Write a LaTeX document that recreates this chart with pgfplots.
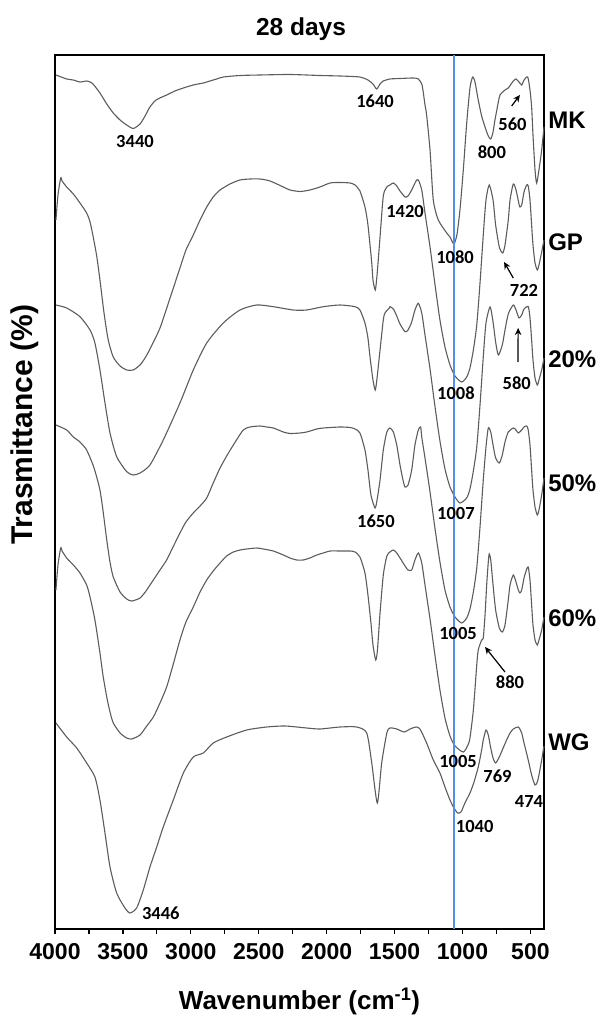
\documentclass[border=0pt]{standalone}
\usepackage{pgfplots}
\pgfplotsset{compat=1.18}
\usepackage{fontspec}
\setmainfont{Liberation Sans}
\newfontfamily\annfont{Carlito}
\usetikzlibrary{arrows.meta}
\definecolor{curvegray}{RGB}{92,92,92}
\definecolor{refblue}{RGB}{85,140,240}
\begin{document}
\begin{tikzpicture}
\useasboundingbox (-55pt,-92pt) rectangle (543pt,929pt);
\begin{axis}[
  at={(0,0)}, anchor=south west,
  width=489pt, height=874pt, scale only axis,
  x dir=reverse, xmin=400, xmax=4000,
  ymin=-929, ymax=-55,
  clip=false,
  axis line style={line width=1.3pt},
  ytick=\empty,
  xtick={500,1000,...,4000},
  minor xtick={750,1250,...,3750},
  xtick pos=bottom,
  tick align=outside,
  major tick length=5pt, minor tick length=5pt,
  every tick/.style={black, line width=1.2pt},
  /pgf/number format/assume math mode=true,
  /pgf/number format/1000 sep={},
  xticklabel style={font=\bfseries\fontsize{23}{23}\selectfont, yshift=-6pt},
  title={28 days},
  title style={font=\bfseries\fontsize{24.5}{28}\selectfont, at={(axis description cs:0.503,1.0217)}, anchor=base, yshift=-5pt},
  xlabel={Wavenumber (cm\textsuperscript{-1})},
  xlabel style={font=\bfseries\fontsize{26}{28}\selectfont, at={(axis description cs:0.5,-0.0925)}, anchor=base},
  ylabel={Trasmittance (\%)},
  ylabel style={font=\bfseries\fontsize{30}{32}\selectfont, at={(axis description cs:-0.0613,0.577)}, anchor=center},
  spec/.style={draw=curvegray, line width=1.1pt, smooth, tension=0.4, mark=none},
]
% MK
\addplot[spec] coordinates {(3993,-75) (3914,-79) (3865,-80) (3816,-82) (3767,-81) (3742,-82) (3720,-84) (3669,-93) (3619,-104) (3571,-113) (3521,-120) (3472,-125) (3424,-128.5) (3374,-124) (3337,-116) (3301,-107) (3256,-100) (3178,-95) (3117,-91) (3055,-88) (2982,-85) (2908,-83) (2859,-81) (2810,-79) (2761,-77) (2638,-75.5) (2491,-75) (2270,-74.5) (2049,-75.5) (1902,-76) (1755,-77) (1696,-80) (1659,-84) (1632,-89) (1607,-84) (1583,-81) (1534,-79) (1460,-78.5) (1362,-78) (1325,-79) (1300,-84) (1289,-92) (1276,-105) (1264,-115) (1239,-150) (1215,-200) (1178,-220) (1116,-233) (1092,-237) (1063,-244) (1040,-234) (1018,-209) (994,-170) (969,-123) (945,-88) (925,-77) (908,-82) (884,-100) (859,-116) (834,-127) (810,-136) (792,-139) (775,-132) (761,-120) (736,-102) (724,-95) (687,-90) (663,-88) (626,-81) (606,-79) (584,-82) (564,-85) (547,-80) (520,-77) (503,-90) (491,-107) (481,-135) (466,-170) (454,-183) (437,-170) (417,-150) (400,-127)};
% GP
\addplot[spec] coordinates {(3993,-220) (3978,-195) (3958,-178) (3948,-181) (3914,-187) (3865,-194) (3816,-203) (3767,-213) (3742,-222) (3720,-236) (3693,-256) (3669,-280) (3639,-313) (3608,-340) (3571,-357) (3521,-366) (3472,-370) (3424,-370) (3374,-365) (3337,-358) (3301,-349) (3227,-328) (3153,-298) (3080,-268) (3036,-250) (2982,-235) (2932,-220) (2883,-207) (2835,-197) (2785,-190) (2712,-184) (2638,-180) (2564,-179) (2491,-179) (2417,-181) (2319,-187) (2270,-190) (2196,-191.5) (2123,-190) (2049,-187) (1975,-183) (1902,-182.5) (1828,-183) (1791,-185) (1755,-191) (1718,-207) (1696,-225) (1668,-263) (1659,-280) (1642,-290) (1629,-275) (1607,-237) (1583,-196) (1557,-187) (1534,-185) (1509,-183) (1484,-186) (1460,-191) (1423,-197) (1401,-196) (1374,-190) (1342,-181) (1325,-180) (1300,-190) (1276,-213) (1239,-247) (1202,-285) (1166,-320) (1129,-347) (1092,-365) (1055,-376) (1006,-382) (969,-377) (945,-368) (920,-350) (895,-325) (871,-283) (847,-235) (827,-200) (803,-185) (775,-200) (756,-225) (729,-247) (704,-253) (687,-245) (663,-220) (650,-200) (626,-184) (606,-190) (584,-204) (577,-207) (564,-205) (547,-192) (527,-185) (516,-186) (503,-200) (491,-225) (481,-245) (466,-263) (449,-270) (437,-265) (417,-252) (400,-240)};
% 20%
\addplot[spec] coordinates {(3993,-305) (3914,-308) (3816,-316.7) (3742,-330) (3706,-343) (3669,-370) (3632,-403) (3595,-433) (3546,-456.7) (3472,-471.7) (3424,-475) (3374,-473) (3301,-465) (3203,-440) (3080,-403) (2982,-370) (2883,-343) (2761,-323) (2638,-310) (2515,-305) (2393,-306.7) (2246,-310) (2147,-310) (2025,-306.7) (1902,-305) (1791,-306.7) (1755,-310) (1718,-323) (1696,-338) (1681,-356.7) (1659,-380) (1642,-390) (1629,-378) (1607,-350) (1583,-320) (1571,-313) (1539,-308) (1534,-306.7) (1509,-309) (1484,-316) (1460,-324) (1423,-331.7) (1401,-330) (1374,-322) (1350,-310) (1325,-303.3) (1300,-313) (1276,-335) (1239,-369) (1202,-407) (1166,-441) (1129,-469) (1092,-487) (1055,-497) (1018,-503) (969,-498) (945,-489) (920,-471) (895,-447) (871,-405) (847,-357) (827,-323) (797,-307) (775,-322) (756,-342) (736,-355) (707,-345) (687,-330) (663,-314) (626,-305) (606,-310) (584,-318) (564,-315) (547,-309) (516,-306.7) (503,-318) (491,-340) (481,-360) (466,-378) (449,-385) (437,-380) (417,-370) (400,-358)};
% 50%
\addplot[spec] coordinates {(3993,-425) (3914,-430) (3865,-437) (3816,-442) (3767,-450) (3720,-465) (3693,-477) (3669,-490) (3647,-510) (3619,-540) (3595,-562) (3571,-577) (3521,-592) (3472,-599) (3435,-601) (3374,-598) (3330,-591) (3276,-580) (3227,-570) (3178,-560) (3131,-547) (3080,-533) (3036,-522) (2982,-513) (2932,-506) (2883,-498) (2835,-483) (2785,-468) (2736,-456) (2687,-445) (2614,-430) (2564,-427) (2491,-426) (2441,-427) (2393,-428) (2319,-432) (2270,-433.5) (2196,-433) (2147,-432) (2073,-429) (2025,-428) (1902,-427) (1828,-427.5) (1791,-429) (1755,-433) (1718,-450) (1696,-470) (1674,-495) (1644,-508) (1629,-500) (1607,-480) (1583,-450) (1557,-432) (1534,-428) (1509,-432) (1484,-445) (1460,-465) (1438,-480) (1423,-487) (1401,-485) (1374,-470) (1350,-445) (1325,-430) (1308,-427) (1300,-437) (1276,-458) (1239,-492) (1202,-529) (1166,-562) (1129,-590) (1092,-607) (1055,-617) (1006,-623) (969,-618) (945,-609) (920,-592) (895,-568) (871,-527) (847,-480) (827,-447) (810,-428) (792,-432) (775,-445) (756,-458) (729,-463) (707,-455) (687,-442) (663,-432) (626,-428) (606,-430) (589,-433) (564,-430) (547,-427) (527,-426) (516,-430) (503,-445) (491,-470) (481,-490) (466,-507) (449,-515) (437,-510) (417,-495) (400,-478)};
% 60%
\addplot[spec] coordinates {(3993,-590) (3978,-565) (3958,-548) (3948,-551) (3914,-558) (3865,-565) (3816,-573) (3767,-585) (3742,-597) (3706,-620) (3669,-653) (3647,-675) (3619,-697) (3595,-712) (3571,-723) (3521,-733) (3472,-738) (3435,-739) (3374,-735) (3330,-727) (3276,-717) (3227,-703) (3178,-687) (3131,-665) (3080,-640) (3036,-622) (2982,-607) (2932,-592) (2883,-580) (2835,-571) (2785,-563) (2736,-556) (2687,-552) (2638,-550) (2589,-549) (2515,-548) (2467,-549) (2393,-551) (2319,-555) (2270,-558) (2221,-560) (2172,-560) (2123,-558) (2073,-555) (2025,-553) (1975,-551) (1902,-551) (1828,-551) (1791,-552) (1755,-557) (1718,-573) (1696,-595) (1674,-623) (1659,-645) (1639,-660) (1626,-650) (1607,-613) (1583,-575) (1557,-556) (1534,-552) (1509,-550) (1484,-553) (1460,-558) (1423,-566) (1401,-570) (1374,-570) (1350,-560) (1325,-553) (1300,-563) (1276,-585) (1239,-619) (1202,-656) (1166,-690) (1129,-718) (1092,-736) (1055,-746) (994,-752) (960,-745) (945,-738) (920,-710) (895,-665) (884,-650) (859,-640) (847,-638) (834,-615) (822,-585) (810,-562) (803,-554) (792,-560) (775,-585) (756,-610) (729,-628) (707,-632) (687,-625) (663,-600) (650,-585) (626,-575) (606,-582) (589,-590) (577,-593) (564,-590) (547,-578) (527,-569) (516,-567) (503,-580) (491,-605) (481,-625) (466,-640) (449,-645) (437,-640) (417,-630) (400,-617)};
% WG
\addplot[spec] coordinates {(3993,-723) (3914,-737) (3840,-748) (3767,-763) (3706,-777) (3669,-800) (3632,-833) (3595,-867) (3546,-893) (3485,-908) (3448,-913) (3399,-908) (3350,-890) (3301,-867) (3251,-847) (3203,-827) (3129,-800) (3055,-773) (2982,-757) (2908,-753) (2835,-743) (2736,-737) (2589,-730) (2441,-727) (2307,-726) (2147,-728) (2049,-729) (1902,-727) (1779,-727) (1705,-733) (1668,-763) (1627,-803) (1595,-763) (1557,-733) (1534,-728) (1484,-729) (1430,-732) (1386,-729) (1342,-727) (1313,-729) (1264,-743) (1215,-760) (1166,-773) (1129,-787) (1092,-800) (1063,-808) (1035,-813) (1011,-812) (982,-803) (945,-793) (915,-782) (884,-767) (859,-750) (847,-740) (827,-730) (810,-735) (792,-748) (775,-758) (756,-763) (729,-757) (707,-750) (675,-740) (650,-733) (626,-729) (589,-727) (564,-733) (547,-743) (516,-760) (491,-775) (466,-785) (449,-782) (437,-775) (417,-760) (400,-746)};
% reference line
\addplot[draw=refblue, line width=1.2pt, sharp plot, mark=none] coordinates {(1063,-55) (1063,-929)};
% annotations
\begin{scope}[every node/.style={font=\annfont\bfseries\fontsize{18.5}{18.5}\selectfont, inner sep=0pt}]
\node at (axis cs:3411,-142) {3440};
\node at (axis cs:1644,-101.5) {1640};
\node at (axis cs:632,-124) {560};
\node at (axis cs:784,-152) {800};
\node at (axis cs:1423,-211.5) {1420};
\node at (axis cs:1055,-257) {1080};
\node at (axis cs:547,-290) {722};
\node at (axis cs:1048,-393) {1008};
\node at (axis cs:601,-383) {580};
\node at (axis cs:1048,-513) {1007};
\node at (axis cs:1637,-521) {1650};
\node at (axis cs:1033,-633) {1005};
\node at (axis cs:650,-682.5) {880};
\node at (axis cs:1033,-761.7) {1005};
\node at (axis cs:742,-775.8) {769};
\node at (axis cs:510,-801.7) {474};
\node at (axis cs:910,-826.3) {1040};
\node at (axis cs:3221,-913.3) {3446};
\end{scope}
\begin{scope}[every node/.style={font=\bfseries\fontsize{24}{24}\selectfont, anchor=west, inner sep=0pt}]
\node at (axis cs:370,-120) {MK};
\node at (axis cs:370,-242) {GP};
\node at (axis cs:370,-359) {20\%};
\node at (axis cs:370,-483) {50\%};
\node at (axis cs:370,-618) {60\%};
\node at (axis cs:370,-742) {WG};
\end{scope}
\begin{scope}[-{Stealth[length=7pt,width=6.5pt]}, line width=1.2pt, black]
\draw (axis cs:638,-106) -- (axis cs:577,-95);
\draw (axis cs:626,-278) -- (axis cs:694,-262);
\draw (axis cs:592,-362) -- (axis cs:590,-328);
\draw (axis cs:687,-672) -- (axis cs:834,-647);
\end{scope}
\end{axis}
\end{tikzpicture}
\end{document}
